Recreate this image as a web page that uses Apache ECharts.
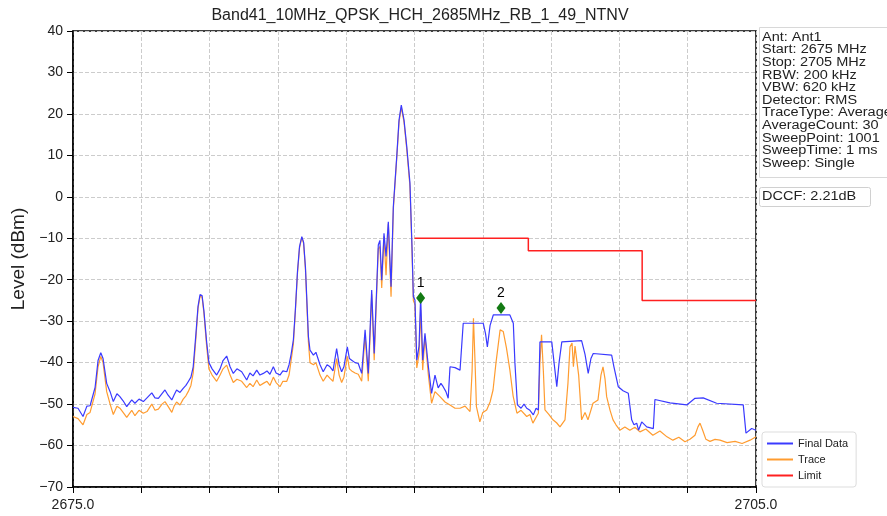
<!DOCTYPE html>
<html>
<head>
<meta charset="utf-8">
<script src="https://cdn.jsdelivr.net/npm/echarts@6/dist/echarts.min.js"></script>
<style>
  html, body { margin: 0; padding: 0; background: #fff; }
  #chart { width: 887px; height: 516px; }
</style>
</head>
<body>
<div id="chart"></div>
<script>
  // Final Data trace [MHz, dBm]
  var finalData = [
    [2675.00, -50.8], [2675.22, -51.0], [2675.44, -53.0], [2675.61, -50.5], [2675.75, -50.4],
    [2675.97, -46.0], [2676.10, -39.5], [2676.22, -37.6], [2676.32, -39.0], [2676.48, -45.0],
    [2676.63, -47.0], [2676.77, -49.4], [2676.93, -47.5], [2677.06, -48.2], [2677.20, -49.2],
    [2677.36, -50.6], [2677.58, -49.0], [2677.72, -49.8], [2677.90, -48.8], [2678.09, -49.4],
    [2678.25, -48.5], [2678.46, -47.3], [2678.60, -48.5], [2678.75, -48.6], [2678.91, -47.5],
    [2679.04, -46.6], [2679.17, -47.8], [2679.34, -49.0], [2679.44, -47.8], [2679.55, -46.6],
    [2679.70, -47.2], [2679.84, -46.2], [2679.96, -45.5], [2680.06, -44.6], [2680.18, -43.5],
    [2680.28, -41.0], [2680.40, -33.0], [2680.49, -26.5], [2680.58, -23.6], [2680.67, -23.8],
    [2680.75, -27.5], [2680.87, -35.0], [2680.97, -40.0], [2681.11, -41.5], [2681.31, -43.0],
    [2681.46, -41.5], [2681.59, -39.5], [2681.75, -38.4], [2681.90, -41.0], [2682.04, -42.6],
    [2682.20, -41.5], [2682.41, -42.2], [2682.63, -44.2], [2682.77, -42.5], [2682.91, -43.2],
    [2683.07, -41.8], [2683.21, -43.0], [2683.36, -42.6], [2683.52, -42.0], [2683.65, -42.8],
    [2683.80, -41.0], [2683.92, -42.5], [2684.09, -43.0], [2684.22, -42.0], [2684.39, -42.2],
    [2684.49, -40.5], [2684.58, -38.0], [2684.68, -34.5], [2684.77, -27.0], [2684.86, -18.0],
    [2684.95, -12.0], [2685.05, -9.6], [2685.13, -11.0], [2685.21, -17.0], [2685.28, -26.0],
    [2685.34, -33.7], [2685.41, -37.0], [2685.56, -38.2], [2685.67, -37.5], [2685.85, -40.5],
    [2685.99, -42.2], [2686.16, -40.5], [2686.29, -41.0], [2686.42, -42.0], [2686.58, -36.6],
    [2686.69, -40.5], [2686.80, -42.2], [2686.90, -41.0], [2687.05, -36.2], [2687.14, -39.0],
    [2687.24, -39.4], [2687.39, -40.0], [2687.53, -40.2], [2687.68, -42.6], [2687.83, -32.1],
    [2687.97, -42.6], [2688.12, -22.5], [2688.23, -37.8], [2688.41, -11.6], [2688.48, -10.5],
    [2688.56, -20.1], [2688.66, -8.8], [2688.75, -14.4], [2688.85, -6.0], [2688.97, -21.7],
    [2689.07, -2.4], [2689.22, 9.7], [2689.32, 18.5], [2689.42, 22.1], [2689.54, 18.5],
    [2689.66, 12.1], [2689.80, 3.3], [2689.89, -12.0], [2689.95, -24.1], [2690.02, -24.9],
    [2690.10, -39.4], [2690.20, -36.0], [2690.27, -24.1], [2690.36, -39.4], [2690.46, -32.9],
    [2690.61, -41.0], [2690.75, -47.4], [2690.90, -43.0], [2691.04, -46.1], [2691.16, -45.0],
    [2691.26, -45.8], [2691.38, -47.0], [2691.48, -48.6], [2691.56, -41.0], [2691.78, -41.2],
    [2692.00, -41.8], [2692.14, -30.5], [2693.02, -30.5], [2693.12, -33.0], [2693.20, -36.2],
    [2693.32, -31.0], [2693.46, -28.5], [2694.19, -28.5], [2694.34, -30.5], [2694.41, -40.0],
    [2694.52, -50.2], [2694.68, -51.0], [2694.81, -50.0], [2694.93, -51.0], [2695.07, -51.5],
    [2695.22, -52.6], [2695.34, -51.0], [2695.44, -51.4], [2695.51, -35.0], [2696.03, -35.0],
    [2696.13, -40.0], [2696.25, -45.8], [2696.35, -40.0], [2696.47, -35.0], [2697.34, -34.7],
    [2697.49, -38.0], [2697.63, -42.6], [2697.75, -39.0], [2697.85, -37.8], [2698.66, -38.2],
    [2698.76, -41.0], [2698.95, -45.8], [2699.16, -46.8], [2699.39, -47.4], [2699.54, -53.8],
    [2699.64, -55.0], [2699.76, -54.6], [2699.84, -56.3], [2699.98, -54.3], [2700.20, -55.5],
    [2700.49, -55.9], [2700.56, -48.9], [2701.22, -49.7], [2701.96, -50.2], [2702.32, -48.6],
    [2702.68, -48.5], [2703.27, -49.8], [2704.44, -50.2], [2704.56, -57.0], [2704.81, -55.9],
    [2705.00, -56.3]
  ];

  // Trace [MHz, dBm]
  var traceData = [
    [2675.00, -53.0], [2675.22, -53.5], [2675.44, -55.0], [2675.61, -52.5], [2675.75, -52.0],
    [2675.97, -47.5], [2676.10, -41.0], [2676.22, -38.5], [2676.32, -40.0], [2676.48, -47.0],
    [2676.63, -50.0], [2676.77, -52.5], [2676.93, -50.5], [2677.06, -51.0], [2677.20, -52.0],
    [2677.36, -53.2], [2677.58, -51.5], [2677.72, -52.8], [2677.90, -51.5], [2678.09, -52.2],
    [2678.25, -51.8], [2678.46, -50.0], [2678.60, -51.5], [2678.75, -51.2], [2678.91, -50.0],
    [2679.04, -49.4], [2679.17, -50.5], [2679.34, -52.0], [2679.44, -50.5], [2679.55, -49.5],
    [2679.70, -50.2], [2679.84, -48.8], [2679.96, -48.0], [2680.06, -47.0], [2680.18, -45.5],
    [2680.28, -42.5], [2680.40, -34.0], [2680.49, -27.0], [2680.58, -24.0], [2680.67, -24.2],
    [2680.75, -28.0], [2680.87, -36.0], [2680.97, -41.5], [2681.11, -43.0], [2681.31, -44.5],
    [2681.46, -43.0], [2681.59, -41.5], [2681.75, -40.6], [2681.90, -43.0], [2682.04, -44.8],
    [2682.20, -44.0], [2682.41, -44.5], [2682.63, -46.0], [2682.77, -45.0], [2682.91, -45.8],
    [2683.07, -44.2], [2683.21, -45.5], [2683.36, -45.0], [2683.52, -44.5], [2683.65, -45.5],
    [2683.80, -43.5], [2683.92, -44.8], [2684.09, -45.8], [2684.22, -44.5], [2684.39, -44.5],
    [2684.49, -43.0], [2684.58, -39.5], [2684.68, -35.5], [2684.77, -27.5], [2684.86, -18.5],
    [2684.95, -12.3], [2685.05, -9.8], [2685.13, -11.3], [2685.21, -17.5], [2685.28, -27.0],
    [2685.34, -35.0], [2685.41, -40.0], [2685.56, -40.5], [2685.67, -40.0], [2685.85, -43.0],
    [2685.99, -44.5], [2686.16, -43.0], [2686.29, -43.8], [2686.42, -44.5], [2686.58, -39.0],
    [2686.69, -43.0], [2686.80, -44.8], [2686.90, -43.5], [2687.05, -38.5], [2687.14, -41.5],
    [2687.24, -42.0], [2687.39, -42.5], [2687.53, -42.8], [2687.68, -44.5], [2687.83, -33.5],
    [2687.97, -44.5], [2688.12, -23.5], [2688.23, -39.4], [2688.41, -12.5], [2688.48, -12.0],
    [2688.56, -22.0], [2688.66, -9.5], [2688.75, -18.9], [2688.85, -6.5], [2688.97, -24.1],
    [2689.07, -3.0], [2689.22, 9.3], [2689.32, 18.0], [2689.42, 21.6], [2689.54, 18.0],
    [2689.66, 11.5], [2689.80, 2.5], [2689.89, -13.0], [2689.95, -25.0], [2690.02, -26.0],
    [2690.10, -41.3], [2690.20, -38.0], [2690.27, -27.3], [2690.36, -41.8], [2690.46, -33.7],
    [2690.61, -43.0], [2690.75, -49.8], [2690.90, -47.0], [2691.12, -48.2], [2691.34, -49.5],
    [2691.56, -50.2], [2691.78, -51.0], [2692.00, -51.0], [2692.22, -50.5], [2692.44, -51.8],
    [2692.53, -42.0], [2692.59, -29.3], [2692.66, -40.0], [2692.72, -50.6], [2692.87, -54.3],
    [2693.00, -52.0], [2693.17, -51.4], [2693.32, -49.5], [2693.45, -46.6], [2693.58, -40.0],
    [2693.76, -32.1], [2693.90, -32.5], [2694.04, -36.5], [2694.19, -41.8], [2694.33, -48.0],
    [2694.50, -52.2], [2694.68, -51.5], [2694.93, -53.0], [2695.07, -52.5], [2695.20, -54.6],
    [2695.44, -52.2], [2695.51, -40.0], [2695.58, -33.3], [2695.66, -42.0], [2695.73, -51.4],
    [2695.90, -52.5], [2696.08, -53.8], [2696.24, -54.5], [2696.39, -55.5], [2696.61, -53.8],
    [2696.74, -45.0], [2696.83, -36.2], [2696.92, -35.3], [2696.98, -41.0], [2697.05, -36.0],
    [2697.13, -36.2], [2697.21, -43.0], [2697.34, -53.8], [2697.49, -52.0], [2697.62, -53.8],
    [2697.84, -49.8], [2698.06, -49.0], [2698.19, -43.0], [2698.28, -41.0], [2698.37, -44.0],
    [2698.44, -48.2], [2698.59, -51.5], [2698.72, -53.8], [2698.85, -55.0], [2699.02, -56.3],
    [2699.24, -55.5], [2699.46, -56.3], [2699.68, -55.6], [2699.90, -56.7], [2700.16, -56.0],
    [2700.47, -57.5], [2700.78, -56.5], [2701.09, -57.9], [2701.35, -58.7], [2701.61, -58.0],
    [2701.88, -59.1], [2702.10, -58.5], [2702.32, -57.5], [2702.45, -55.5], [2702.54, -54.6],
    [2702.67, -56.5], [2702.80, -58.5], [2702.98, -59.0], [2703.20, -58.5], [2703.42, -58.7],
    [2703.73, -59.3], [2704.08, -59.0], [2704.39, -59.5], [2704.74, -58.7], [2705.00, -57.9]
  ];

  // Limit line (steps)
  var limitData = [
    [2690, -10], [2695, -10], [2695, -13], [2700, -13], [2700, -25], [2705, -25]
  ];

  // markers
  var markerFreq = [2690.27, 2693.80];
  var markerLevel = [-24.4, -26.8];
  var markerName = ['1', '2'];

  var infoLines = [
    'Ant: Ant1', 'Start: 2675 MHz', 'Stop: 2705 MHz', 'RBW: 200 kHz', 'VBW: 620 kHz',
    'Detector: RMS', 'TraceType: Average', 'AverageCount: 30', 'SweepPoint: 1001',
    'SweepTime: 1 ms', 'Sweep: Single'
  ];
  var dccfText = 'DCCF: 2.21dB';

  var FONT = 'Liberation Sans, Arial, sans-serif';

  var chart = echarts.init(document.getElementById('chart'));

  var markers = markerFreq.map(function (f, i) {
    return { value: [f, markerLevel[i]], name: markerName[i] };
  });

  var option = {
    animation: false,
    backgroundColor: '#fff',
    textStyle: { fontFamily: FONT },
    title: {
      text: 'Band41_10MHz_QPSK_HCH_2685MHz_RB_1_49_NTNV',
      left: 415,
      textAlign: 'center',
      top: 3,
      textStyle: { fontFamily: FONT, fontSize: 16, fontWeight: 'normal', color: '#222' }
    },
    grid: {
      left: 73, right: 131, top: 31, bottom: 29,
      show: true, borderColor: '#000', borderWidth: 1.5, backgroundColor: 'transparent'
    },
    legend: {
      data: ['Final Data', 'Trace', 'Limit'],
      orient: 'vertical',
      left: 762, top: 432,
      itemWidth: 26, itemHeight: 2, itemGap: 5,
      icon: 'rect',
      padding: [6, 8, 6, 5],
      backgroundColor: '#fff',
      borderColor: '#dddddd', borderWidth: 1, borderRadius: 3,
      textStyle: { fontFamily: FONT, fontSize: 11, color: '#222' }
    },
    xAxis: {
      type: 'value',
      min: 2675, max: 2705, interval: 3,
      axisLine: { show: true, onZero: false, lineStyle: { color: '#000', width: 1.5 } },
      axisTick: { show: true, length: 6, lineStyle: { color: '#000' } },
      axisLabel: {
        fontFamily: FONT, fontSize: 14, color: '#222', margin: 11,
        formatter: function (v) { return (v === 2675 || v === 2705) ? v.toFixed(1) : ''; }
      },
      splitLine: { show: true, lineStyle: { color: '#cccccc', type: 'dashed', width: 1 } }
    },
    yAxis: {
      type: 'value',
      min: -70, max: 40, interval: 10,
      name: 'Level (dBm)',
      nameLocation: 'middle',
      nameGap: 44,
      nameTextStyle: { fontFamily: FONT, fontSize: 19, color: '#222' },
      axisLine: { show: true, onZero: false, lineStyle: { color: '#000', width: 1.5 } },
      axisTick: { show: true, length: 6, lineStyle: { color: '#000' } },
      axisLabel: {
        fontFamily: FONT, fontSize: 14, color: '#222', margin: 10,
        formatter: function (v) { return v < 0 ? '\u2212' + Math.abs(v) : String(v); }
      },
      splitLine: { show: true, lineStyle: { color: '#cccccc', type: 'dashed', width: 1 } }
    },
    series: [
      {
        name: 'Final Data', type: 'line', data: finalData, z: 4,
        showSymbol: false, symbol: 'none',
        lineStyle: { color: '#3a3aff', width: 1.2 }, itemStyle: { color: '#3a3aff' }
      },
      {
        name: 'Trace', type: 'line', data: traceData, z: 3,
        showSymbol: false, symbol: 'none',
        lineStyle: { color: '#ff9c30', width: 1.2 }, itemStyle: { color: '#ff9c30' }
      },
      {
        name: 'Limit', type: 'line', data: limitData, z: 3,
        showSymbol: false, symbol: 'none',
        lineStyle: { color: '#ff2020', width: 1.5 }, itemStyle: { color: '#ff2020' }
      },
      {
        name: 'Markers', type: 'scatter', data: markers,
        symbol: 'diamond', symbolSize: [9, 12], z: 6,
        itemStyle: { color: '#137a13', opacity: 1 },
        label: {
          show: true, position: 'top', distance: 2,
          formatter: function (p) { return p.name; },
          fontFamily: FONT, fontSize: 14, color: '#000'
        }
      }
    ],
    graphic: [
      {
        type: 'rect', left: 759, top: 27,
        shape: { width: 140, height: 150 },
        style: { fill: '#fff', stroke: '#d8d8d8', lineWidth: 1 }
      },
      {
        type: 'text', x: 762, y: 31, scaleX: 1.16,
        style: {
          text: infoLines.join('\n'), fill: '#222',
          fontFamily: FONT, fontSize: 12.5, lineHeight: 12.6
        }
      },
      {
        type: 'rect', left: 759, top: 187,
        shape: { width: 111, height: 19, r: 2 },
        style: { fill: '#fff', stroke: '#d0d0d0', lineWidth: 1 }
      },
      {
        type: 'text', x: 762, y: 190, scaleX: 1.16,
        style: { text: dccfText, fill: '#222', fontFamily: FONT, fontSize: 12.5 }
      }
    ]
  };

  chart.setOption(option);
</script>
</body>
</html>
